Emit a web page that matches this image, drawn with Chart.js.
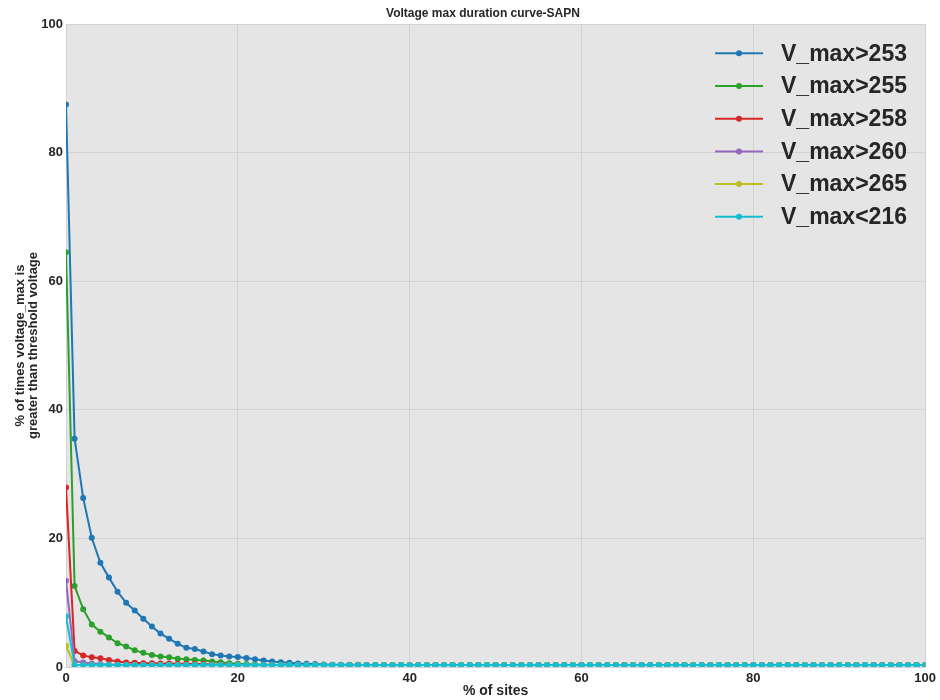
<!DOCTYPE html>
<html>
<head>
<meta charset="utf-8">
<script src="https://cdn.jsdelivr.net/npm/chart.js@4.4.1/dist/chart.umd.min.js"></script>
<style>
  html, body { margin: 0; padding: 0; background: #fff; }
</style>
</head>
<body>
<canvas id="chart" width="940" height="700"></canvas>
<script>
// % of sites (x positions of the points)
const sitesPct = [
  0, 1, 2, 3, 4, 5, 6, 7, 8, 9,
  10, 11, 12, 13, 14, 15, 16, 17, 18, 19,
  20, 21, 22, 23, 24, 25, 26, 27, 28, 29,
  30, 31, 32, 33, 34, 35, 36, 37, 38, 39,
  40, 41, 42, 43, 44, 45, 46, 47, 48, 49,
  50, 51, 52, 53, 54, 55, 56, 57, 58, 59,
  60, 61, 62, 63, 64, 65, 66, 67, 68, 69,
  70, 71, 72, 73, 74, 75, 76, 77, 78, 79,
  80, 81, 82, 83, 84, 85, 86, 87, 88, 89,
  90, 91, 92, 93, 94, 95, 96, 97, 98, 99,
  100
];

const vmax253 = [
  87.5, 35.5, 26.3, 20.1, 16.2, 13.9, 11.7, 10.0, 8.8, 7.5,
  6.3, 5.2, 4.4, 3.6, 3.0, 2.8, 2.4, 2.0, 1.8, 1.65,
  1.55, 1.4, 1.2, 1.0, 0.85, 0.75, 0.65, 0.55, 0.5, 0.45,
  0.4, 0.35, 0.35, 0.35, 0.35, 0.3, 0.3, 0.3, 0.3, 0.3,
  0.3, 0.3, 0.3, 0.3, 0.3, 0.3, 0.3, 0.3, 0.3, 0.3,
  0.3, 0.3, 0.3, 0.3, 0.3, 0.3, 0.3, 0.3, 0.3, 0.3,
  0.3, 0.3, 0.3, 0.3, 0.3, 0.3, 0.3, 0.3, 0.3, 0.3,
  0.3, 0.3, 0.3, 0.3, 0.3, 0.3, 0.3, 0.3, 0.3, 0.3,
  0.3, 0.3, 0.3, 0.3, 0.3, 0.3, 0.3, 0.3, 0.3, 0.3,
  0.3, 0.3, 0.3, 0.3, 0.3, 0.3, 0.3, 0.3, 0.3, 0.3,
  0.3
];

const vmax255 = [
  64.5, 12.6, 9.0, 6.6, 5.5, 4.6, 3.7, 3.2, 2.6, 2.2,
  1.85, 1.65, 1.5, 1.3, 1.2, 1.1, 1.0, 0.85, 0.75, 0.6,
  0.5, 0.45, 0.4, 0.35, 0.35, 0.3, 0.3, 0.3, 0.3, 0.3,
  0.3, 0.3, 0.3, 0.3, 0.3, 0.3, 0.3, 0.3, 0.3, 0.3,
  0.3, 0.3, 0.3, 0.3, 0.3, 0.3, 0.3, 0.3, 0.3, 0.3,
  0.3, 0.3, 0.3, 0.3, 0.3, 0.3, 0.3, 0.3, 0.3, 0.3,
  0.3, 0.3, 0.3, 0.3, 0.3, 0.3, 0.3, 0.3, 0.3, 0.3,
  0.3, 0.3, 0.3, 0.3, 0.3, 0.3, 0.3, 0.3, 0.3, 0.3,
  0.3, 0.3, 0.3, 0.3, 0.3, 0.3, 0.3, 0.3, 0.3, 0.3,
  0.3, 0.3, 0.3, 0.3, 0.3, 0.3, 0.3, 0.3, 0.3, 0.3,
  0.3
];

const vmax258 = [
  27.9, 2.5, 1.8, 1.5, 1.35, 1.1, 0.85, 0.7, 0.65, 0.6,
  0.6, 0.55, 0.55, 0.5, 0.5, 0.45, 0.45, 0.4, 0.4, 0.35,
  0.3, 0.3, 0.3, 0.3, 0.3, 0.3, 0.3, 0.3, 0.3, 0.3,
  0.3, 0.3, 0.3, 0.3, 0.3, 0.3, 0.3, 0.3, 0.3, 0.3,
  0.3, 0.3, 0.3, 0.3, 0.3, 0.3, 0.3, 0.3, 0.3, 0.3,
  0.3, 0.3, 0.3, 0.3, 0.3, 0.3, 0.3, 0.3, 0.3, 0.3,
  0.3, 0.3, 0.3, 0.3, 0.3, 0.3, 0.3, 0.3, 0.3, 0.3,
  0.3, 0.3, 0.3, 0.3, 0.3, 0.3, 0.3, 0.3, 0.3, 0.3,
  0.3, 0.3, 0.3, 0.3, 0.3, 0.3, 0.3, 0.3, 0.3, 0.3,
  0.3, 0.3, 0.3, 0.3, 0.3, 0.3, 0.3, 0.3, 0.3, 0.3,
  0.3
];

const vmax260 = [
  13.4, 0.9, 0.7, 0.55, 0.45, 0.4, 0.35, 0.3, 0.3, 0.3,
  0.3, 0.3, 0.3, 0.3, 0.3, 0.3, 0.3, 0.3, 0.3, 0.3,
  0.3, 0.3, 0.3, 0.3, 0.3, 0.3, 0.3, 0.3, 0.3, 0.3,
  0.3, 0.3, 0.3, 0.3, 0.3, 0.3, 0.3, 0.3, 0.3, 0.3,
  0.3, 0.3, 0.3, 0.3, 0.3, 0.3, 0.3, 0.3, 0.3, 0.3,
  0.3, 0.3, 0.3, 0.3, 0.3, 0.3, 0.3, 0.3, 0.3, 0.3,
  0.3, 0.3, 0.3, 0.3, 0.3, 0.3, 0.3, 0.3, 0.3, 0.3,
  0.3, 0.3, 0.3, 0.3, 0.3, 0.3, 0.3, 0.3, 0.3, 0.3,
  0.3, 0.3, 0.3, 0.3, 0.3, 0.3, 0.3, 0.3, 0.3, 0.3,
  0.3, 0.3, 0.3, 0.3, 0.3, 0.3, 0.3, 0.3, 0.3, 0.3,
  0.3
];

const vmax265 = [
  3.3, 0.3, 0.3, 0.3, 0.3, 0.3, 0.3, 0.3, 0.3, 0.3,
  0.3, 0.3, 0.3, 0.3, 0.3, 0.3, 0.3, 0.3, 0.3, 0.3,
  0.3, 0.3, 0.3, 0.3, 0.3, 0.3, 0.3, 0.3, 0.3, 0.3,
  0.3, 0.3, 0.3, 0.3, 0.3, 0.3, 0.3, 0.3, 0.3, 0.3,
  0.3, 0.3, 0.3, 0.3, 0.3, 0.3, 0.3, 0.3, 0.3, 0.3,
  0.3, 0.3, 0.3, 0.3, 0.3, 0.3, 0.3, 0.3, 0.3, 0.3,
  0.3, 0.3, 0.3, 0.3, 0.3, 0.3, 0.3, 0.3, 0.3, 0.3,
  0.3, 0.3, 0.3, 0.3, 0.3, 0.3, 0.3, 0.3, 0.3, 0.3,
  0.3, 0.3, 0.3, 0.3, 0.3, 0.3, 0.3, 0.3, 0.3, 0.3,
  0.3, 0.3, 0.3, 0.3, 0.3, 0.3, 0.3, 0.3, 0.3, 0.3,
  0.3
];

const vmin216 = [
  7.9, 0.3, 0.3, 0.3, 0.3, 0.3, 0.3, 0.3, 0.3, 0.3,
  0.3, 0.3, 0.3, 0.3, 0.3, 0.3, 0.3, 0.3, 0.3, 0.3,
  0.3, 0.3, 0.3, 0.3, 0.3, 0.3, 0.3, 0.3, 0.3, 0.3,
  0.3, 0.3, 0.3, 0.3, 0.3, 0.3, 0.3, 0.3, 0.3, 0.3,
  0.3, 0.3, 0.3, 0.3, 0.3, 0.3, 0.3, 0.3, 0.3, 0.3,
  0.3, 0.3, 0.3, 0.3, 0.3, 0.3, 0.3, 0.3, 0.3, 0.3,
  0.3, 0.3, 0.3, 0.3, 0.3, 0.3, 0.3, 0.3, 0.3, 0.3,
  0.3, 0.3, 0.3, 0.3, 0.3, 0.3, 0.3, 0.3, 0.3, 0.3,
  0.3, 0.3, 0.3, 0.3, 0.3, 0.3, 0.3, 0.3, 0.3, 0.3,
  0.3, 0.3, 0.3, 0.3, 0.3, 0.3, 0.3, 0.3, 0.3, 0.3,
  0.3
];

const seriesLabels = ['V_max>253', 'V_max>255', 'V_max>258', 'V_max>260', 'V_max>265', 'V_max<216'];
const seriesValues = [vmax253, vmax255, vmax258, vmax260, vmax265, vmin216];
const xTicks = [0, 20, 40, 60, 80, 100];
const yTicks = [0, 20, 40, 60, 80, 100];

const colors = ['#1f77b4', '#2ca02c', '#d62728', '#9467bd', '#bcbd22', '#17becf'];
const textColor = '#262626';
const fontFamily = "'Liberation Sans', Arial, sans-serif";

Chart.defaults.font.family = fontFamily;

const datasets = seriesLabels.map((label, i) => ({
  label: label,
  data: seriesValues[i].map((v, j) => ({ x: sitesPct[j], y: v })),
  borderColor: colors[i],
  backgroundColor: colors[i],
  pointBackgroundColor: colors[i],
  pointBorderWidth: 0,
  pointRadius: 3,
  borderWidth: 2,
  tension: 0,
  order: seriesLabels.length - i, // later series drawn on top, like matplotlib
}));

// grey plot background
const plotBackground = {
  id: 'plotBackground',
  beforeDraw(chart) {
    const { ctx, chartArea } = chart;
    ctx.save();
    ctx.fillStyle = '#e5e5e5';
    ctx.fillRect(chartArea.left, chartArea.top, chartArea.right - chartArea.left, chartArea.bottom - chartArea.top);
    ctx.restore();
  }
};

// title + legend drawn like the matplotlib figure
const figureText = {
  id: 'figureText',
  afterDraw(chart) {
    const { ctx } = chart;
    ctx.save();
    ctx.fillStyle = textColor;
    ctx.font = 'bold 12px ' + fontFamily;
    ctx.textAlign = 'center';
    ctx.textBaseline = 'middle';
    ctx.fillText('Voltage max duration curve-SAPN', 483, 14);

    ctx.font = 'bold 23px ' + fontFamily;
    ctx.textAlign = 'left';
    seriesLabels.forEach((label, i) => {
      const y = 53.3 + i * 32.7;
      ctx.strokeStyle = colors[i];
      ctx.lineWidth = 2;
      ctx.beginPath();
      ctx.moveTo(715, y);
      ctx.lineTo(763, y);
      ctx.stroke();
      ctx.fillStyle = colors[i];
      ctx.beginPath();
      ctx.arc(739, y, 3, 0, Math.PI * 2);
      ctx.fill();
      ctx.fillStyle = textColor;
      ctx.fillText(label, 781, y + 1);
    });
    ctx.restore();
  }
};

new Chart(document.getElementById('chart'), {
  type: 'line',
  data: { datasets: datasets },
  options: {
    responsive: false,
    animation: false,
    layout: { padding: { left: 0, right: 14, top: 24, bottom: 0 } },
    plugins: {
      legend: { display: false },
      title: { display: false },
      tooltip: { enabled: false },
    },
    scales: {
      x: {
        type: 'linear',
        min: 0,
        max: 100,
        afterBuildTicks: (scale) => { scale.ticks = xTicks.map(v => ({ value: v })); },
        afterFit: (scale) => { scale.height = 33; },
        ticks: { color: textColor, font: { size: 13, weight: 'bold' }, padding: 4, maxRotation: 0 },
        grid: { color: '#d2d2d2', drawTicks: false },
        border: { display: false },
        title: {
          display: true,
          text: '% of sites',
          color: textColor,
          font: { size: 14, weight: 'bold' },
          padding: { top: 0, bottom: 0 },
        },
      },
      y: {
        type: 'linear',
        min: 0,
        max: 100,
        afterBuildTicks: (scale) => { scale.ticks = yTicks.map(v => ({ value: v })); },
        afterFit: (scale) => { scale.width = 66; },
        ticks: { color: textColor, font: { size: 13, weight: 'bold' }, padding: 3 },
        grid: { color: '#d2d2d2', drawTicks: false },
        border: { display: false },
        title: {
          display: true,
          text: ['% of times voltage_max is', 'greater than threshold voltage'],
          color: textColor,
          font: { size: 13, weight: 'bold', lineHeight: 1.0 },
          padding: { top: 13.5, bottom: 0 },
        },
      },
    },
  },
  plugins: [plotBackground, figureText],
});
</script>
</body>
</html>
